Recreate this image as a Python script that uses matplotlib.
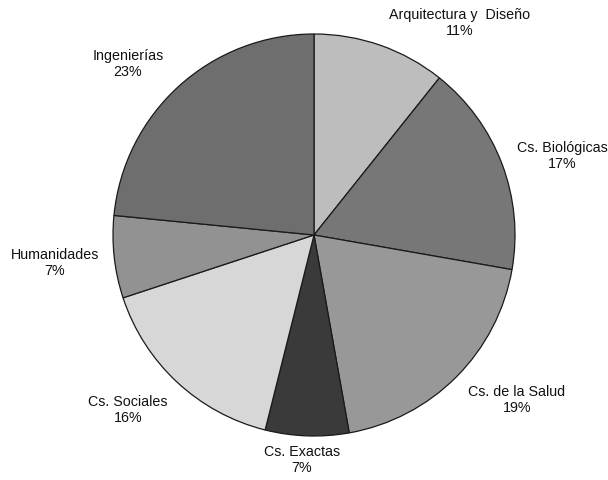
import matplotlib
matplotlib.use("Agg")
import matplotlib.pyplot as plt

categories = ["Arquitectura y  Diseño", "Cs. Biológicas", "Cs. de la Salud",
              "Cs. Exactas", "Cs. Sociales", "Humanidades", "Ingenierías"]
values = [10.7, 17.0, 19.4, 6.7, 16.0, 6.6, 23.4]
colors = ["#bdbdbd", "#777777", "#989898", "#3a3a3a", "#d7d7d7", "#929292", "#6e6e6e"]

# label centre positions in pixel coords (x, y from top)
label_pos = [(460, 23), (562, 156), (517, 400), (302, 460), (128, 410), (55, 263), (128, 64)]

W, H = 608, 481
fig = plt.figure(figsize=(W / 100, H / 100), dpi=100)
ax = fig.add_axes([0, 0, 1, 1])
ax.set_xlim(0, W)
ax.set_ylim(0, H)
ax.set_aspect("equal")
ax.axis("off")

cx, cy, r = 314, H - 236, 201
ax.pie(values, colors=colors, startangle=90, counterclock=False,
       center=(cx, cy), radius=r, frame=True,
       wedgeprops=dict(edgecolor="#1a1a1a", linewidth=0.9))
ax.set_xlim(0, W)
ax.set_ylim(0, H)
ax.axis("off")

total = sum(values)
for name, v, (x, y) in zip(categories, values, label_pos):
    ax.text(x, H - y, f"{name}\n{round(v / total * 100)}%", ha="center", va="center",
            fontsize=10.3, family="Liberation Sans", color="#111111", linespacing=1.15)

fig.savefig("out.png", dpi=100)
